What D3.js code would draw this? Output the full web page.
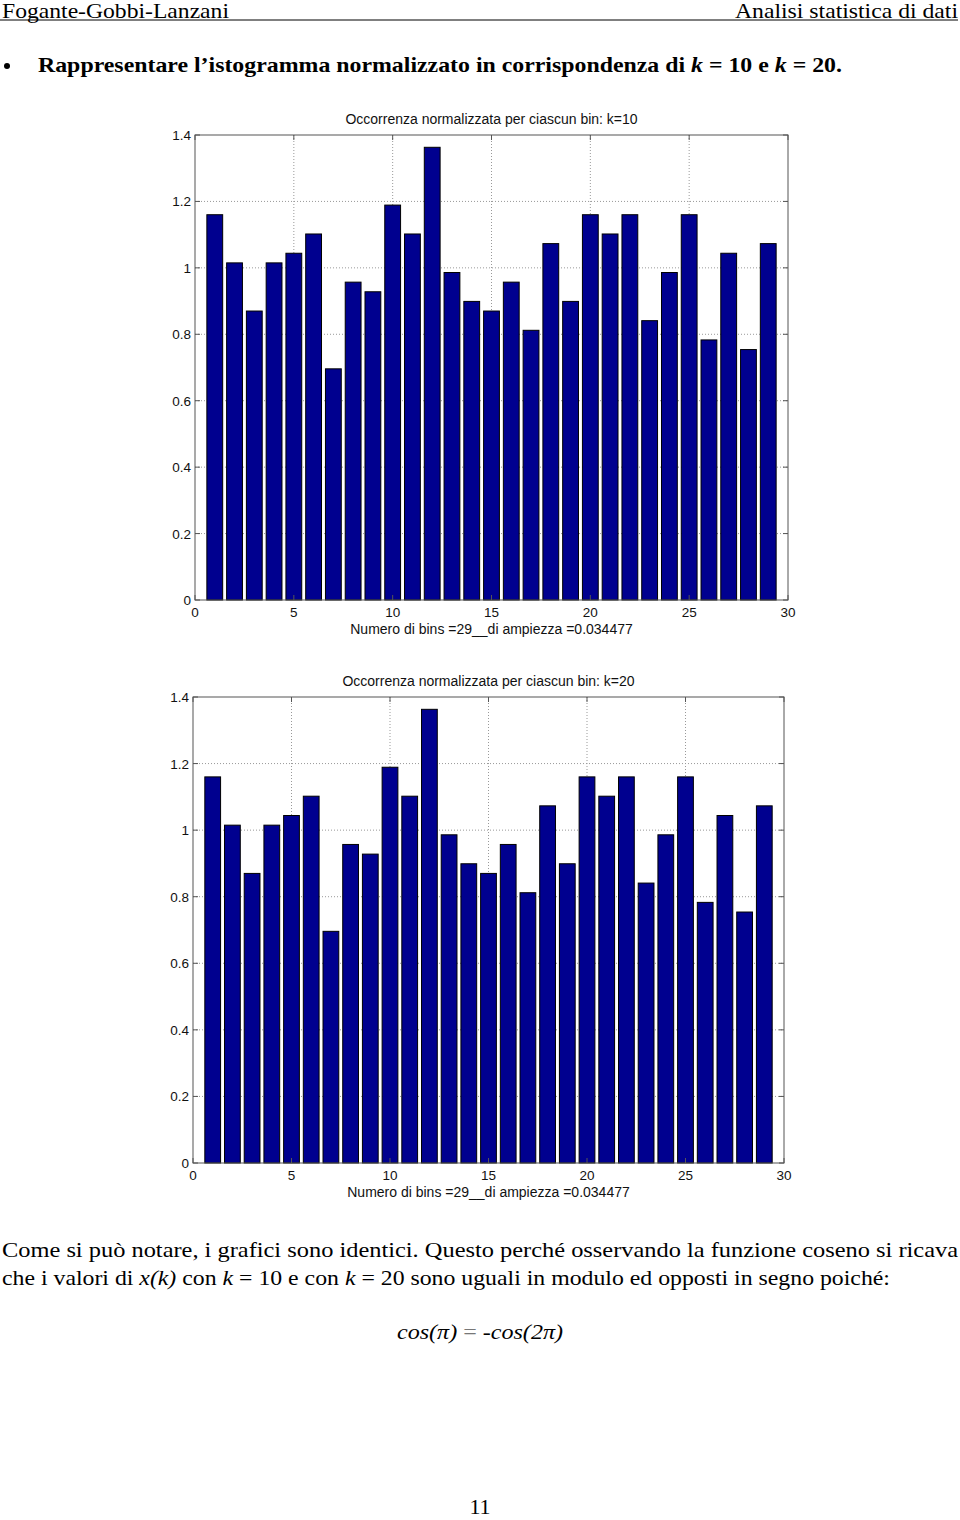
<!DOCTYPE html>
<html><head><meta charset="utf-8">
<script src="https://cdn.jsdelivr.net/npm/d3@7/dist/d3.min.js"></script>
<style>
body{margin:0;background:#fff;}
svg{display:block;}
.serif{font-family:"Liberation Serif","Times New Roman",serif;fill:#000;}
.ax{font-family:"Liberation Sans",Arial,sans-serif;font-size:13.5px;fill:#111;}
.axt{font-family:"Liberation Sans",Arial,sans-serif;font-size:14px;fill:#111;}
</style></head>
<body>
<script>
// Data
const bins = d3.range(1, 30);
const valuesK10 = [1.16,1.015,0.87,1.015,1.044,1.102,0.696,0.957,0.928,1.189,1.102,1.363,0.986,0.899,0.87,0.957,0.812,1.073,0.899,1.16,1.102,1.16,0.841,0.986,1.16,0.783,1.044,0.754,1.073];
const valuesK20 = [1.16,1.015,0.87,1.015,1.044,1.102,0.696,0.957,0.928,1.189,1.102,1.363,0.986,0.899,0.87,0.957,0.812,1.073,0.899,1.16,1.102,1.16,0.841,0.986,1.16,0.783,1.044,0.754,1.073];
const xTicks = [0,5,10,15,20,25,30];
const yTicks = [0,0.2,0.4,0.6,0.8,1,1.2,1.4];
const titles = ["Occorrenza normalizzata per ciascun bin: k=10","Occorrenza normalizzata per ciascun bin: k=20"];
const xLabel = "Numero di bins =29__di ampiezza =0.034477";

const W = 960, H = 1520;
const svg = d3.select("body").append("svg").attr("width", W).attr("height", H);

// Header
svg.append("text").attr("class","serif").attr("x",2).attr("y",18).attr("font-size",21)
  .attr("textLength",227).attr("lengthAdjust","spacingAndGlyphs").text("Fogante-Gobbi-Lanzani");
svg.append("text").attr("class","serif").attr("x",958).attr("y",18).attr("font-size",21)
  .attr("text-anchor","end").attr("textLength",223).attr("lengthAdjust","spacingAndGlyphs").text("Analisi statistica di dati");
svg.append("line").attr("x1",0).attr("x2",958).attr("y1",20).attr("y2",20).attr("stroke","#000").attr("stroke-width",1);

// Bullet line
svg.append("circle").attr("cx",7).attr("cy",66).attr("r",3).attr("fill","#000");
const bl = svg.append("text").attr("class","serif").attr("x",38).attr("y",72).attr("font-size",22).attr("font-weight","bold")
  .attr("textLength",804).attr("lengthAdjust","spacingAndGlyphs");
bl.append("tspan").text("Rappresentare l\u2019istogramma normalizzato in corrispondenza di ");
bl.append("tspan").attr("font-style","italic").text("k");
bl.append("tspan").text(" = 10 e ");
bl.append("tspan").attr("font-style","italic").text("k");
bl.append("tspan").text(" = 20.");

function drawChart(frame, values, title) {
  const x = d3.scaleLinear().domain([0,30]).range([frame.x0, frame.x1]);
  const y = d3.scaleLinear().domain([0,1.4]).range([frame.y1, frame.y0]);
  const g = svg.append("g");
  // grid
  g.selectAll(".gx").data(xTicks.slice(1,-1)).join("line")
    .attr("x1",d=>x(d)).attr("x2",d=>x(d)).attr("y1",frame.y0).attr("y2",frame.y1)
    .attr("stroke","#999").attr("stroke-width",1).attr("stroke-dasharray","1,2");
  g.selectAll(".gy").data(yTicks.slice(1,-1)).join("line")
    .attr("x1",frame.x0).attr("x2",frame.x1).attr("y1",d=>y(d)).attr("y2",d=>y(d))
    .attr("stroke","#999").attr("stroke-width",1).attr("stroke-dasharray","1,2");
  // bars
  g.selectAll(".bar").data(values).join("rect")
    .attr("x",(d,i)=>x(bins[i]-0.4)).attr("width",(d,i)=>x(bins[i]+0.4)-x(bins[i]-0.4))
    .attr("y",d=>y(d)).attr("height",d=>y(0)-y(d))
    .attr("fill","#00008f").attr("stroke","#000").attr("stroke-width",1);
  // frame
  g.append("rect").attr("x",frame.x0).attr("y",frame.y0).attr("width",frame.x1-frame.x0).attr("height",frame.y1-frame.y0)
    .attr("fill","none").attr("stroke","#555").attr("stroke-width",1);
  // ticks inside
  xTicks.forEach(t=>{
    g.append("line").attr("x1",x(t)).attr("x2",x(t)).attr("y1",frame.y1).attr("y2",frame.y1-5).attr("stroke","#555");
    g.append("line").attr("x1",x(t)).attr("x2",x(t)).attr("y1",frame.y0).attr("y2",frame.y0+5).attr("stroke","#555");
  });
  yTicks.forEach(t=>{
    g.append("line").attr("x1",frame.x0).attr("x2",frame.x0+5).attr("y1",y(t)).attr("y2",y(t)).attr("stroke","#555");
    g.append("line").attr("x1",frame.x1).attr("x2",frame.x1-5).attr("y1",y(t)).attr("y2",y(t)).attr("stroke","#555");
  });
  // labels
  g.selectAll(".xl").data(xTicks).join("text").attr("class","ax")
    .attr("x",d=>x(d)).attr("y",frame.y1+17).attr("text-anchor","middle").text(d=>d);
  g.selectAll(".yl").data(yTicks).join("text").attr("class","ax")
    .attr("x",frame.x0-4).attr("y",d=>y(d)+5).attr("text-anchor","end").text(d=>d);
  g.append("text").attr("class","axt").attr("x",(frame.x0+frame.x1)/2).attr("y",frame.y1+34)
    .attr("text-anchor","middle").text(xLabel);
  g.append("text").attr("class","axt").attr("x",(frame.x0+frame.x1)/2).attr("y",frame.y0-11)
    .attr("text-anchor","middle").text(title);
}

drawChart({x0:195,x1:788,y0:135,y1:600}, valuesK10, titles[0]);
drawChart({x0:193,x1:784,y0:697,y1:1163}, valuesK20, titles[1]);

// Paragraph
svg.append("text").attr("class","serif").attr("x",2).attr("y",1257).attr("font-size",22)
  .attr("textLength",956).attr("lengthAdjust","spacingAndGlyphs")
  .text("Come si può notare, i grafici sono identici. Questo perché osservando la funzione coseno si ricava");
const p2 = svg.append("text").attr("class","serif").attr("x",2).attr("y",1285).attr("font-size",22)
  .attr("textLength",888).attr("lengthAdjust","spacingAndGlyphs");
p2.append("tspan").text("che i valori di ");
p2.append("tspan").attr("font-style","italic").text("x(k)");
p2.append("tspan").text(" con ");
p2.append("tspan").attr("font-style","italic").text("k");
p2.append("tspan").text(" = 10 e con ");
p2.append("tspan").attr("font-style","italic").text("k");
p2.append("tspan").text(" = 20 sono uguali in modulo ed opposti in segno poiché:");

const f = svg.append("text").attr("class","serif").attr("x",397).attr("y",1339).attr("font-size",22)
  .attr("textLength",166).attr("lengthAdjust","spacingAndGlyphs");
f.append("tspan").attr("font-style","italic").text("cos(π)");
f.append("tspan").attr("fill","#777").text(" = ");
f.append("tspan").attr("font-style","italic").text("-cos(2π)");

svg.append("text").attr("class","serif").attr("x",480).attr("y",1514).attr("font-size",22)
  .attr("text-anchor","middle").text("11");
</script>
</body></html>
